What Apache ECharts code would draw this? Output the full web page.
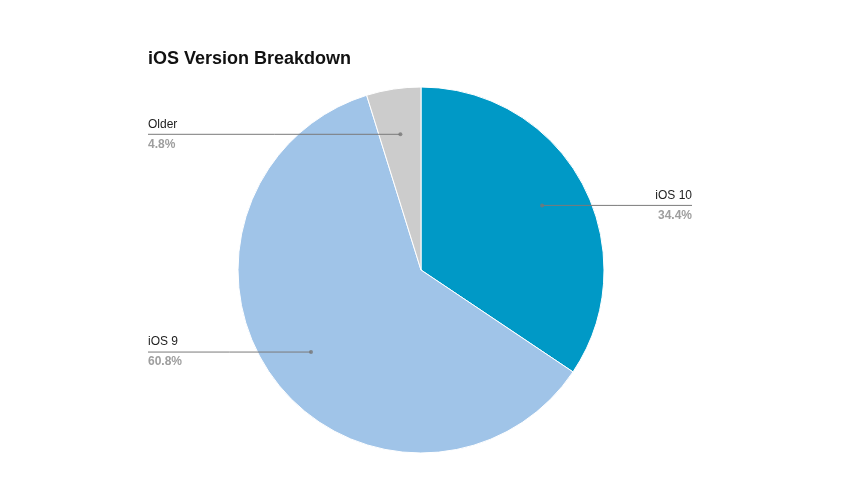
<!DOCTYPE html>
<html>
<head>
<meta charset="utf-8">
<script src="https://cdn.jsdelivr.net/npm/echarts@6/dist/echarts.min.js"></script>
<style>html,body{margin:0;padding:0;background:#fff}#c{width:844px;height:499px}</style>
</head>
<body>
<div id="c"></div>
<script>
var categories = ['iOS 10', 'iOS 9', 'Older'];
var values = [34.4, 60.8, 4.8];
var colors = ['#0099c6', '#a0c4e8', '#cccccc'];

var CX = 421, CY = 270, R = 183, LABEL_R = 0.75;
var LEFT_X = 148, RIGHT_X = 692;

var total = values.reduce(function (a, b) { return a + b; }, 0);
var cum = 0;
var dots = values.map(function (v) { var mid = cum + v / 2; cum += v; return [LABEL_R, mid]; });

var pieData = categories.map(function (c, i) { return { name: c, value: values[i], itemStyle: { color: colors[i] } }; });

var chart = echarts.init(document.getElementById('c'));
chart.setOption({
  animation: false,
  title: {
    text: 'iOS Version Breakdown', left: 143, top: 45,
    textStyle: { fontFamily: 'Liberation Sans, Arial, sans-serif', fontSize: 18, fontWeight: 'bold', color: '#111' }
  },
  polar: { center: [CX, CY], radius: R },
  angleAxis: { type: 'value', min: 0, max: total, startAngle: 90, clockwise: true, show: false },
  radiusAxis: { type: 'value', min: 0, max: 1, show: false },
  series: [
    {
      type: 'pie', center: [CX, CY], radius: R, startAngle: 90, clockwise: true,
      label: { show: false }, labelLine: { show: false }, silent: true,
      itemStyle: { borderColor: '#fff', borderWidth: 1 },
      data: pieData
    },
    {
      type: 'pie', center: [CX, CY], radius: R * LABEL_R, startAngle: 90, clockwise: true, z: 5, silent: true,
      itemStyle: { color: 'rgba(0,0,0,0)' },
      label: {
        show: true, position: 'outside',
        formatter: function (p) { return '{n|' + p.name + '}\n{v|' + p.value.toFixed(1) + '%}'; },
        rich: {
          n: { fontFamily: 'Liberation Sans, Arial, sans-serif', fontSize: 12, color: '#222', lineHeight: 20 },
          v: { fontFamily: 'Liberation Sans, Arial, sans-serif', fontSize: 12, fontWeight: 'bold', color: '#9e9e9e', lineHeight: 20 }
        }
      },
      labelLine: { show: true, length: 5, length2: 5, lineStyle: { color: '#7a7a7a', width: 1 } },
      labelLayout: function (params) {
        var p0 = params.labelLinePoints ? params.labelLinePoints[0] : [CX, CY];
        var left = p0[0] < CX;
        var ex = left ? LEFT_X : RIGHT_X;
        return {
          x: ex, y: p0[1], align: left ? 'left' : 'right', verticalAlign: 'middle',
          labelLinePoints: [[p0[0], p0[1]], [(p0[0] + ex) / 2, p0[1]], [ex, p0[1]]]
        };
      },
      data: categories.map(function (c, i) { return { name: c, value: values[i] }; })
    },
    {
      type: 'scatter', coordinateSystem: 'polar', symbol: 'circle', symbolSize: 4, z: 6, silent: true,
      itemStyle: { color: '#777' },
      data: dots
    }
  ]
});
</script>
</body>
</html>
